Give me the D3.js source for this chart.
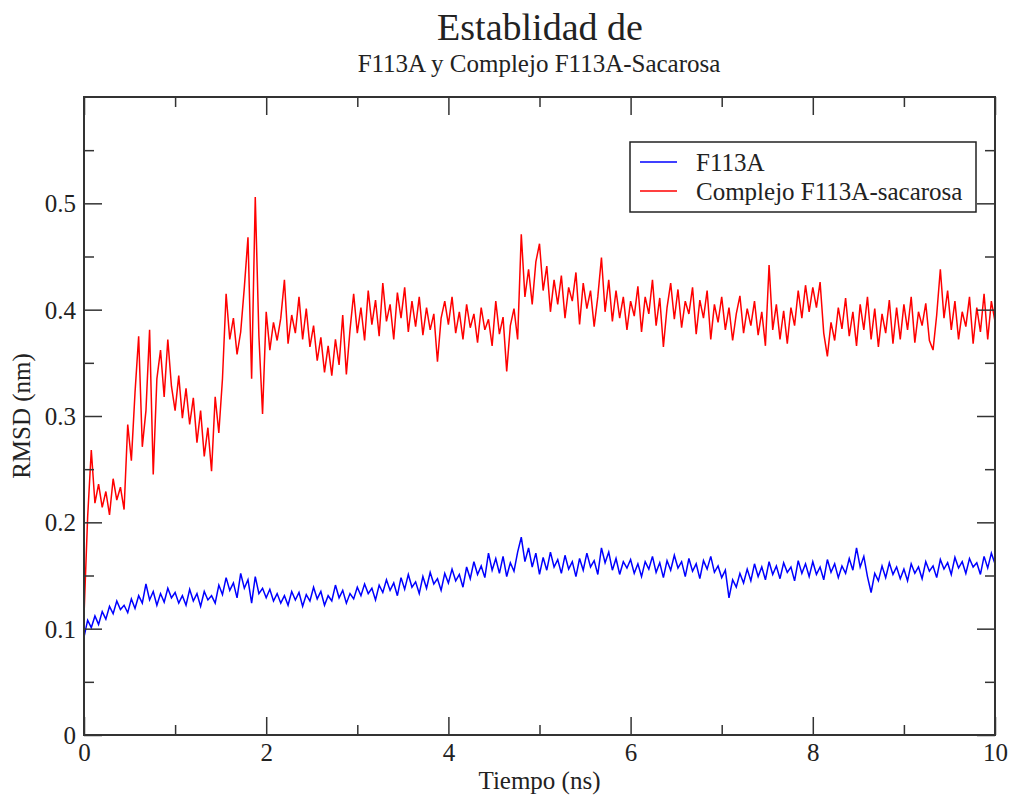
<!DOCTYPE html>
<html>
<head>
<meta charset="utf-8">
<script src="https://cdn.jsdelivr.net/npm/d3@7"></script>
<style>
  body { margin: 0; background: #fff; }
  svg { display: block; }
</style>
</head>
<body>
<div id="chart"></div>
<script>
// values, one sample every 0.04 ns (25 per row = 1 ns)
const dt = 0.04;

const f113a = [
  0.092,0.108,0.101,0.112,0.104,0.116,0.109,0.121,0.114,0.126,0.118,0.122,0.115,0.128,0.119,0.131,0.124,0.142,0.127,0.135,0.122,0.133,0.125,0.138,0.129,
  0.134,0.124,0.131,0.122,0.137,0.126,0.133,0.121,0.135,0.127,0.131,0.124,0.141,0.132,0.148,0.136,0.143,0.129,0.152,0.138,0.146,0.124,0.149,0.133,0.138,
  0.129,0.137,0.126,0.133,0.124,0.131,0.122,0.135,0.127,0.134,0.121,0.132,0.126,0.139,0.128,0.135,0.122,0.131,0.126,0.141,0.129,0.136,0.124,0.133,0.128,
  0.139,0.131,0.142,0.133,0.138,0.127,0.141,0.134,0.146,0.136,0.143,0.131,0.148,0.137,0.151,0.139,0.144,0.133,0.149,0.138,0.153,0.142,0.147,0.136,0.152,
  0.143,0.156,0.145,0.151,0.139,0.158,0.147,0.163,0.151,0.159,0.148,0.171,0.155,0.166,0.152,0.168,0.149,0.162,0.154,0.172,0.186,0.163,0.176,0.158,0.171,
  0.151,0.167,0.155,0.172,0.158,0.165,0.152,0.169,0.156,0.163,0.149,0.166,0.155,0.171,0.158,0.164,0.151,0.176,0.162,0.172,0.155,0.166,0.151,0.163,0.157,
  0.165,0.152,0.161,0.149,0.163,0.156,0.168,0.153,0.162,0.148,0.164,0.155,0.169,0.157,0.163,0.149,0.166,0.154,0.161,0.147,0.164,0.156,0.168,0.153,0.159,
  0.148,0.155,0.129,0.146,0.139,0.152,0.143,0.156,0.145,0.161,0.149,0.158,0.146,0.163,0.151,0.159,0.147,0.162,0.153,0.158,0.145,0.164,0.152,0.161,0.149,
  0.163,0.151,0.158,0.146,0.165,0.153,0.161,0.148,0.159,0.152,0.166,0.155,0.176,0.158,0.168,0.149,0.134,0.152,0.145,0.159,0.148,0.162,0.151,0.158,0.147,
  0.156,0.145,0.161,0.152,0.158,0.147,0.163,0.154,0.159,0.148,0.165,0.156,0.162,0.151,0.167,0.157,0.163,0.152,0.166,0.158,0.162,0.151,0.168,0.157,0.171,
  0.161
];

const complejo = [
  0.112,0.205,0.268,0.218,0.236,0.214,0.229,0.207,0.241,0.221,0.233,0.212,0.292,0.258,0.322,0.375,0.271,0.305,0.381,0.245,0.335,0.362,0.318,0.372,0.328,
  0.305,0.338,0.298,0.326,0.292,0.317,0.275,0.305,0.262,0.289,0.248,0.318,0.284,0.335,0.415,0.372,0.392,0.358,0.379,0.421,0.468,0.335,0.506,0.375,0.302,
  0.398,0.362,0.388,0.371,0.392,0.428,0.368,0.395,0.378,0.412,0.372,0.401,0.365,0.385,0.352,0.374,0.341,0.366,0.338,0.372,0.348,0.395,0.339,0.381,0.415,
  0.378,0.402,0.371,0.418,0.386,0.409,0.375,0.425,0.389,0.405,0.372,0.416,0.392,0.421,0.379,0.408,0.384,0.412,0.376,0.402,0.381,0.396,0.351,0.392,0.408,
  0.386,0.412,0.378,0.398,0.372,0.405,0.383,0.396,0.369,0.402,0.381,0.391,0.366,0.408,0.377,0.393,0.342,0.385,0.401,0.372,0.471,0.412,0.438,0.405,0.445,
  0.462,0.418,0.441,0.398,0.428,0.405,0.432,0.392,0.421,0.408,0.435,0.386,0.425,0.401,0.418,0.384,0.412,0.449,0.398,0.428,0.389,0.418,0.392,0.412,0.381,
  0.408,0.394,0.422,0.379,0.412,0.396,0.428,0.385,0.411,0.365,0.402,0.425,0.391,0.419,0.383,0.408,0.396,0.421,0.377,0.409,0.392,0.418,0.372,0.405,0.388,
  0.412,0.381,0.402,0.371,0.396,0.413,0.378,0.401,0.385,0.408,0.376,0.398,0.366,0.442,0.381,0.405,0.372,0.399,0.368,0.402,0.385,0.418,0.392,0.423,0.398,
  0.421,0.402,0.426,0.378,0.356,0.388,0.371,0.402,0.382,0.411,0.375,0.398,0.366,0.405,0.381,0.412,0.372,0.401,0.365,0.396,0.378,0.409,0.368,0.402,0.372,
  0.405,0.381,0.412,0.369,0.398,0.385,0.406,0.371,0.362,0.395,0.438,0.392,0.418,0.381,0.408,0.372,0.398,0.384,0.412,0.368,0.402,0.379,0.415,0.372,0.408,
  0.389
];

const seriesNames = ["F113A", "Complejo F113A-sacarosa"];
const seriesColors = ["#0000ff", "#ff0000"];
const xTicks = [0, 2, 4, 6, 8, 10];
const yTicks = [0, 0.1, 0.2, 0.3, 0.4, 0.5];

const width = 1009, height = 795;
const margin = {top: 97, right: 14, bottom: 60, left: 84};
const font = "'Liberation Serif', 'Times New Roman', serif";
const frameColor = "#333";

const svg = d3.select("#chart").append("svg")
    .attr("width", width)
    .attr("height", height)
    .style("font-family", font);

const x = d3.scaleLinear().domain([0, 10]).range([margin.left, width - margin.right]);
const y = d3.scaleLinear().domain([0, 0.6]).range([height - margin.bottom, margin.top]);

// series
const line = d3.line()
    .x((d, i) => x(i * dt))
    .y(d => y(d));

[f113a, complejo].forEach((data, k) => {
  svg.append("path")
      .datum(data)
      .attr("fill", "none")
      .attr("stroke", seriesColors[k])
      .attr("stroke-width", 1.5)
      .attr("stroke-linejoin", "miter")
      .attr("d", line);
});

// axes: ticks pointing inward on all four sides, like xmgrace
const xMinor = [1, 3, 5, 7, 9];
const yMinor = [0.05, 0.15, 0.25, 0.35, 0.45, 0.55];
const majorLen = 18, minorLen = 10;

function addAxis(axis, tx, ty, values, len, fmt, pad) {
  return svg.append("g")
      .attr("transform", `translate(${tx},${ty})`)
      .call(axis.tickValues(values).tickSize(-len).tickPadding(pad || 3).tickFormat(fmt || ""));
}

addAxis(d3.axisBottom(x), 0, y(0), xTicks, majorLen, d3.format("d"), 8);
addAxis(d3.axisBottom(x), 0, y(0), xMinor, minorLen);
addAxis(d3.axisTop(x), 0, y(0.6), xTicks, majorLen);
addAxis(d3.axisTop(x), 0, y(0.6), xMinor, minorLen);
const yAxisLeft = addAxis(d3.axisLeft(y), x(0), 0, yTicks, majorLen, d3.format(""), 8);
addAxis(d3.axisLeft(y), x(0), 0, yMinor, minorLen);
addAxis(d3.axisRight(y), x(10), 0, yTicks, majorLen);
addAxis(d3.axisRight(y), x(10), 0, yMinor, minorLen);

svg.selectAll(".domain").remove();
svg.selectAll(".tick line").attr("stroke", frameColor).attr("stroke-width", 1.5);
svg.selectAll(".tick text")
    .attr("fill", "#222")
    .style("font-family", font)
    .style("font-size", "25px");
yAxisLeft.selectAll(".tick text").attr("dy", "0.34em");

// frame
svg.append("rect")
    .attr("x", x(0))
    .attr("y", y(0.6))
    .attr("width", x(10) - x(0))
    .attr("height", y(0) - y(0.6))
    .attr("fill", "none")
    .attr("stroke", frameColor)
    .attr("stroke-width", 2);

// titles
svg.append("text")
    .attr("x", 540).attr("y", 40)
    .attr("text-anchor", "middle")
    .attr("fill", "#222")
    .style("font-size", "38px")
    .text("Establidad de");
svg.append("text")
    .attr("x", 539).attr("y", 72)
    .attr("text-anchor", "middle")
    .attr("fill", "#222")
    .style("font-size", "25px")
    .text("F113A y Complejo F113A-Sacarosa");

svg.append("text")
    .attr("x", (x(0) + x(10)) / 2).attr("y", 789)
    .attr("text-anchor", "middle")
    .attr("fill", "#222")
    .style("font-size", "25px")
    .text("Tiempo (ns)");
svg.append("text")
    .attr("transform", `translate(30,${(y(0) + y(0.6)) / 2}) rotate(-90)`)
    .attr("text-anchor", "middle")
    .attr("fill", "#222")
    .style("font-size", "25px")
    .text("RMSD (nm)");

// legend
const legend = svg.append("g");
legend.append("rect")
    .attr("x", 630).attr("y", 142)
    .attr("width", 346).attr("height", 70)
    .attr("fill", "#fff")
    .attr("stroke", "#222")
    .attr("stroke-width", 1.5);
seriesNames.forEach((name, i) => {
  const ly = 162 + i * 29;
  legend.append("line")
      .attr("x1", 640).attr("x2", 677)
      .attr("y1", ly).attr("y2", ly)
      .attr("stroke", seriesColors[i])
      .attr("stroke-width", 1.4);
  legend.append("text")
      .attr("x", 696).attr("y", ly + 9)
      .attr("fill", "#222")
      .style("font-size", "25px")
      .text(name);
});
</script>
</body>
</html>
